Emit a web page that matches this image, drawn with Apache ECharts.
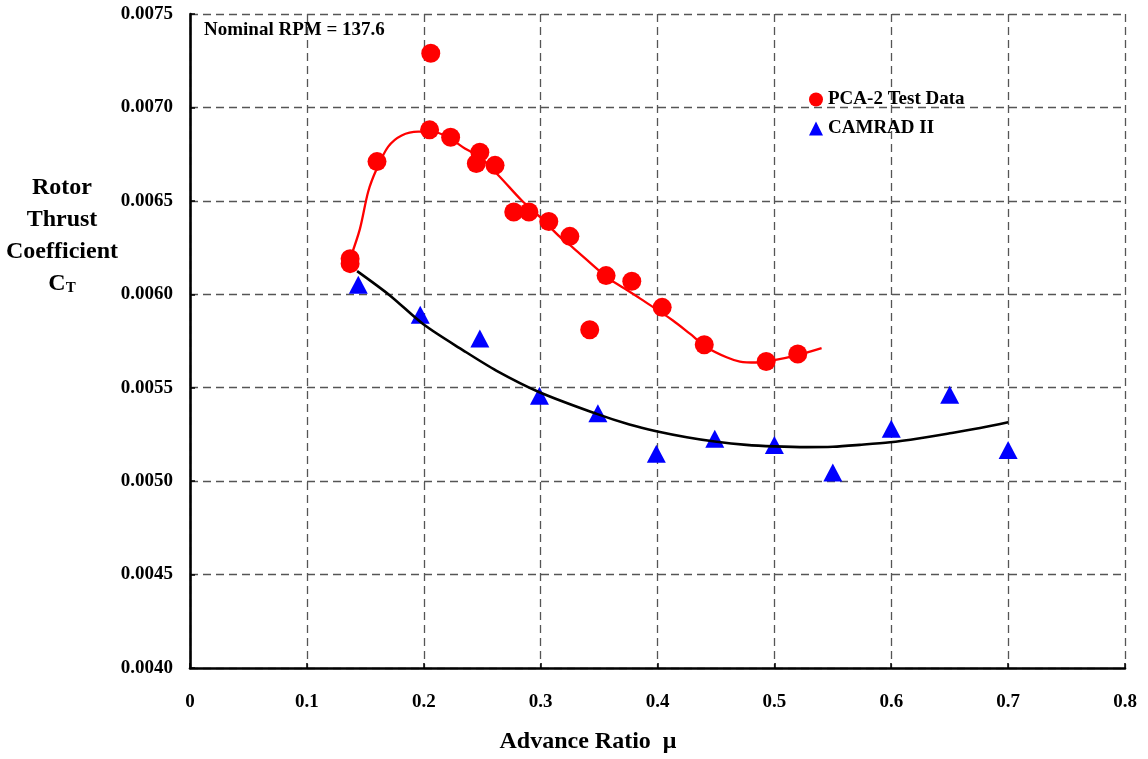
<!DOCTYPE html>
<html>
<head>
<meta charset="utf-8">
<script src="https://cdn.jsdelivr.net/npm/echarts@6/dist/echarts.min.js"></script>
<style>
html,body{margin:0;padding:0;background:#fff;}
#chart{width:1148px;height:759px;}
</style>
</head>
<body>
<div id="chart"></div>
<script>
// PCA-2 test data
const pcaMu = [0.137, 0.137, 0.160, 0.206, 0.205, 0.223, 0.248, 0.245, 0.261, 0.277, 0.290, 0.307, 0.325, 0.342, 0.356, 0.378, 0.404, 0.440, 0.493, 0.520];
const pcaCt = [0.00619, 0.006164, 0.00671, 0.00729, 0.00688, 0.00684, 0.00676, 0.00670, 0.00669, 0.00644, 0.00644, 0.00639, 0.00631, 0.00581, 0.00610, 0.00607, 0.00593, 0.00573, 0.00564, 0.00568];
// Curve through PCA-2 data
const fitPcaMu = [0.137, 0.1454, 0.1525, 0.1597, 0.1696, 0.1811, 0.1953, 0.2068, 0.2210, 0.2352, 0.2481, 0.2652, 0.2837, 0.2994, 0.3165, 0.3276, 0.3565, 0.3707, 0.3849, 0.4132, 0.4277, 0.4420, 0.4591, 0.4705, 0.4848, 0.4987, 0.5190, 0.5404];
const fitPcaCt = [0.00619, 0.00635, 0.00655, 0.00667, 0.00679, 0.00685, 0.00687, 0.00687, 0.00684, 0.00678, 0.006735, 0.006628, 0.006503, 0.006414, 0.006307, 0.00625, 0.006092, 0.006035, 0.005978, 0.00586, 0.005789, 0.005717, 0.005663, 0.00564, 0.005635, 0.005646, 0.005673, 0.005712];
// CAMRAD II predictions
const camMu = [0.144, 0.197, 0.248, 0.299, 0.349, 0.399, 0.449, 0.500, 0.550, 0.600, 0.650, 0.700];
const camCt = [0.006051, 0.005891, 0.005763, 0.005457, 0.005363, 0.005146, 0.005227, 0.005194, 0.005046, 0.005280, 0.005463, 0.005167];
// Curve through CAMRAD II
const fitCamMu = [0.143, 0.171, 0.200, 0.234, 0.262, 0.299, 0.348, 0.376, 0.399, 0.425, 0.449, 0.476, 0.500, 0.5275, 0.550, 0.573, 0.599, 0.6245, 0.650, 0.676, 0.700];
const fitCamCt = [0.006124, 0.005994, 0.005838, 0.005699, 0.005592, 0.005476, 0.005360, 0.005303, 0.005267, 0.005235, 0.005212, 0.005194, 0.005186, 0.005182, 0.005184, 0.005194, 0.005208, 0.005230, 0.005256, 0.005284, 0.005315];

const xTicks = [0, 0.1, 0.2, 0.3, 0.4, 0.5, 0.6, 0.7, 0.8];
const yTicks = [0.0040, 0.0045, 0.0050, 0.0055, 0.0060, 0.0065, 0.0070, 0.0075];

const titleText = 'Nominal RPM = 137.6';
const xName = 'Advance Ratio  \u03bc';
const yNameLines = ['Rotor', 'Thrust', 'Coefficient'];
const seriesNames = ['PCA-2 Test Data', 'CAMRAD II'];

const FONT = '"Liberation Serif", "Times New Roman", serif';
const zip = (a, b) => a.map((v, i) => [v, b[i]]);

const chart = echarts.init(document.getElementById('chart'), null, {renderer: 'canvas'});
const gridStyle = {show: true, lineStyle: {color: '#555', width: 1.3, type: [8, 5]}};

chart.setOption({
  backgroundColor: '#fff',
  animation: false,
  grid: {left: 190, right: 23, top: 14, bottom: 91, containLabel: false},
  legend: {
    orient: 'vertical',
    left: 804,
    top: 85,
    itemWidth: 14,
    itemHeight: 14,
    itemGap: 10,
    data: [
      {name: seriesNames[0], icon: 'circle', itemStyle: {color: '#ff0000', opacity: 1}},
      {name: seriesNames[1], icon: 'triangle', itemStyle: {color: '#0000ff', opacity: 1}}
    ],
    textStyle: {fontFamily: FONT, fontWeight: 'bold', fontSize: 19, color: '#000'}
  },
  xAxis: {
    type: 'value',
    min: 0, max: 0.8, interval: 0.1,
    axisLine: {show: true, onZero: false, lineStyle: {color: '#000', width: 2.6}},
    axisTick: {show: true, inside: true, length: 5, lineStyle: {color: '#000', width: 1.5}},
    axisLabel: {
      margin: 25, fontFamily: FONT, fontWeight: 'bold', fontSize: 19, color: '#000',
      formatter: v => (Math.abs(v) < 1e-9 ? '0' : v.toFixed(1))
    },
    splitLine: gridStyle
  },
  yAxis: {
    type: 'value',
    min: 0.0040, max: 0.0075, interval: 0.0005,
    axisLine: {show: true, onZero: false, lineStyle: {color: '#000', width: 2.6}},
    axisTick: {show: true, inside: true, length: 5, lineStyle: {color: '#000', width: 1.5}},
    axisLabel: {
      margin: 17, fontFamily: FONT, fontWeight: 'bold', fontSize: 19, color: '#000',
      formatter: v => v.toFixed(4)
    },
    splitLine: gridStyle
  },
  series: [
    {
      name: seriesNames[0], type: 'scatter', symbol: 'circle', symbolSize: 19,
      itemStyle: {color: '#ff0000', opacity: 1}, data: zip(pcaMu, pcaCt), z: 3
    },
    {
      name: seriesNames[1], type: 'scatter', symbol: 'triangle', symbolSize: [19, 18],
      itemStyle: {color: '#0000ff', opacity: 1}, data: zip(camMu, camCt), z: 3
    },
    {
      name: 'pcaFit', type: 'line', smooth: 0.3, showSymbol: false, symbol: 'none',
      lineStyle: {color: '#ff0000', width: 2.3}, data: zip(fitPcaMu, fitPcaCt), z: 4, silent: true
    },
    {
      name: 'camFit', type: 'line', smooth: 0.3, showSymbol: false, symbol: 'none',
      lineStyle: {color: '#000', width: 2.6}, data: zip(fitCamMu, fitCamCt), z: 4, silent: true
    }
  ],
  graphic: [
    {
      type: 'text', left: 204, top: 21, z: 10,
      style: {text: titleText, fontFamily: FONT, fontWeight: 'bold', fontSize: 19, fill: '#000'}
    },
    {
      type: 'text', x: 588, y: 742, z: 10,
      style: {text: xName, fontFamily: FONT, fontWeight: 'bold', fontSize: 24, fill: '#000', align: 'center', verticalAlign: 'middle'}
    },
    {
      type: 'text', x: 62, y: 236, z: 10,
      style: {
        text: yNameLines.map(s => '{a|' + s + '}').join('\n') + '\n{a|C}{s|T}',
        align: 'center', verticalAlign: 'middle', fill: '#000',
        rich: {
          a: {fontFamily: FONT, fontWeight: 'bold', fontSize: 24, lineHeight: 32, fill: '#000'},
          s: {fontFamily: FONT, fontWeight: 'bold', fontSize: 15, lineHeight: 32, padding: [9, 0, 0, 0], fill: '#000'}
        }
      }
    }
  ]
});
</script>
</body>
</html>
